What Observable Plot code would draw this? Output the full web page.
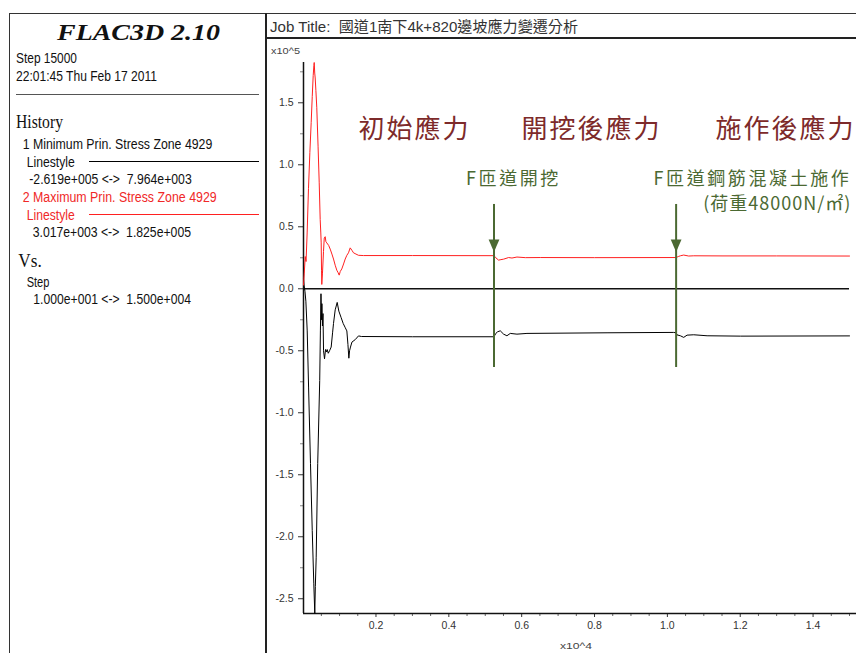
<!DOCTYPE html>
<html>
<head>
<meta charset="utf-8">
<script src="https://cdn.jsdelivr.net/npm/d3@7"></script>
<script src="https://cdn.jsdelivr.net/npm/@observablehq/plot@0.6"></script>
<style>
  body { margin: 0; background: #fff; }
  #page { position: relative; width: 856px; height: 653px; overflow: hidden; background: #fff; }
  #page > svg { position: absolute; left: 0; top: 0; }
</style>
</head>
<body>
<div id="page"></div>
<script>
// History 1: minimum principal stress, zone 4929 (x10^5 Pa) against step
const minSteps = [10, 25, 50, 75, 112, 150, 202, 250, 293, 320,
  335, 358, 400, 455, 474, 490, 505, 515, 530, 545,
  560, 587, 615, 640, 660, 690, 725, 770, 810, 834,
  880, 935, 980, 1040, 1100, 1150, 1200, 1230, 1255, 1275,
  1300, 1340, 1430, 1520, 1600, 3000, 5240, 5290, 5339, 5412,
  5504, 5595, 5687, 5870, 6145, 8343, 10173, 10240, 10265, 10357,
  10448, 10540, 10723, 11090, 12005, 15000];
const minStress = [0.0796, 0.03, -0.02, -0.10, -0.34, -0.80, -1.41, -1.95, -2.38, -2.619,
  -2.40, -2.17, -1.41, -0.74, -0.34, -0.04, -0.25, -0.12, -0.30, -0.20,
  -0.50, -0.565, -0.49, -0.51, -0.49, -0.52, -0.50, -0.47, -0.35, -0.28,
  -0.17, -0.11, -0.18, -0.23, -0.28, -0.31, -0.34, -0.45, -0.56, -0.50,
  -0.47, -0.43, -0.41, -0.38, -0.385, -0.387, -0.387, -0.36, -0.347, -0.339,
  -0.366, -0.379, -0.36, -0.366, -0.36, -0.355, -0.352, -0.355, -0.372, -0.379,
  -0.392, -0.374, -0.371, -0.379, -0.382, -0.38];

// History 2: maximum principal stress, zone 4929 (x10^5 Pa) against step
const maxSteps = [10, 30, 57, 80, 110, 147, 185, 221, 250, 276,
  295, 304, 318, 331, 350, 375, 410, 441, 468, 485,
  496, 505, 512, 530, 559, 580, 606, 625, 650, 700,
  743, 790, 834, 880, 924, 960, 990, 1020, 1061, 1110,
  1155, 1200, 1245, 1292, 1340, 1383, 1450, 1520, 1657, 3000,
  5240, 5290, 5366, 5430, 5504, 5641, 5733, 5870, 6100, 6511,
  8000, 10240, 10300, 10357, 10448, 10585, 10723, 11500, 13000, 15000];
const maxStress = [0.0302, 0.12, 0.26, 0.22, 0.45, 0.81, 1.10, 1.34, 1.55, 1.72,
  1.80, 1.825, 1.74, 1.70, 1.60, 1.46, 1.15, 0.86, 0.56, 0.45,
  0.37, 0.15, 0.035, 0.12, 0.30, 0.41, 0.42, 0.38, 0.37, 0.35,
  0.32, 0.28, 0.24, 0.19, 0.15, 0.13, 0.11, 0.14, 0.16, 0.20,
  0.24, 0.27, 0.29, 0.33, 0.31, 0.29, 0.28, 0.27, 0.268, 0.268,
  0.267, 0.25, 0.231, 0.235, 0.239, 0.252, 0.248, 0.256, 0.251, 0.252,
  0.251, 0.252, 0.26, 0.266, 0.272, 0.264, 0.266, 0.265, 0.265, 0.264];

// Axis ticks
const yTickValues = [-2.5, -2.0, -1.5, -1.0, -0.5, 0.0, 0.5, 1.0, 1.5];
const yMinorTicks = [-2.25, -1.75, -1.25, -0.75, -0.25, 0.25, 0.75, 1.25, 1.75];
const xTickValues = [2000, 4000, 6000, 8000, 10000, 12000, 14000];
const xMinorTicks = [500, 1000, 1500, 2500, 3000, 3500, 4500, 5000, 5500, 6500, 7000, 7500,
  8500, 9000, 9500, 10500, 11000, 11500, 12500, 13000, 13500, 14500, 15000];

// Stage captions
const stageLabels = ["初始應力", "開挖後應力", "施作後應力"];
const stageSteps = [3057, 7916, 13241];
const stageStress = [1.28, 1.28, 1.28];

// Construction events
const eventSteps = [5240, 10240];
const eventTop = 0.68, eventBottom = -0.635, eventHead = 0.347;
const eventLabels = ["F匝道開挖", "F匝道鋼筋混凝土施作", "(荷重48000N/㎡)"];
const eventLabelSteps = [5775, 15053, 15053];
const eventLabelStress = [0.885, 0.88, 0.68];

const minSeries = minSteps.map((s, i) => ({step: s, stress: minStress[i]}));
const maxSeries = maxSteps.map((s, i) => ({step: s, stress: maxStress[i]}));
const yMin = -2.619, yMax = 1.825;

const green = "#4b6932";
const darkRed = "#7d2a2a";
const cjk = "'Noto Sans CJK TC', 'Noto Sans', sans-serif";

// Downward pointing arrow head
const arrowHead = {
  draw(context, size) {
    const r = Math.sqrt(size / Math.PI);
    const h = 2.8 * r, w = 2.4 * r;
    context.moveTo(-w / 2, -h / 2);
    context.lineTo(w / 2, -h / 2);
    context.lineTo(0, h / 2);
    context.closePath();
  }
};

const chart = Plot.plot({
  width: 856,
  height: 653,
  marginLeft: 303,
  marginRight: 7,
  marginTop: 62,
  marginBottom: 40,
  style: {fontFamily: "'Liberation Sans', Arial, sans-serif", background: "transparent", overflow: "visible"},
  x: {domain: [10, 15000], label: null},
  y: {domain: [yMin, yMax], label: null},
  marks: [
    Plot.axisY(yMinorTicks, {tickSize: 3, tickFormat: () => "", stroke: "#888", label: null}),
    Plot.axisY(yTickValues, {tickSize: 5, tickPadding: 5, tickFormat: d => d.toFixed(1), fontSize: 10.5, color: "#333", label: null}),
    Plot.axisX(xMinorTicks, {tickSize: 3, tickFormat: () => "", stroke: "#666", label: null}),
    Plot.axisX(xTickValues, {tickSize: 4, tickPadding: 4, tickFormat: d => (d / 1e4).toFixed(1), fontSize: 10.5, color: "#333", label: null}),
    Plot.ruleX([10], {stroke: "#111", strokeWidth: 1.5}),
    Plot.ruleY([yMin], {stroke: "#111", strokeWidth: 1.5, insetRight: -7}),
    Plot.ruleY([0], {stroke: "#111", strokeWidth: 1.6}),
    Plot.line(minSeries, {x: "step", y: "stress", stroke: "#000", strokeWidth: 1}),
    Plot.line(maxSeries, {x: "step", y: "stress", stroke: "#ff2020", strokeWidth: 1}),
    Plot.ruleX(eventSteps, {y1: eventTop, y2: eventBottom, stroke: green, strokeWidth: 2}),
    Plot.dot(eventSteps, {x: d => d, y: eventHead, symbol: arrowHead, r: 4.5, fill: green, stroke: "none"}),
    Plot.text(stageLabels, {x: (d, i) => stageSteps[i], y: (d, i) => stageStress[i], text: d => d,
      fontSize: 26, fill: darkRed, fontFamily: cjk}),
    Plot.text(eventLabels.slice(0, 1), {x: (d, i) => eventLabelSteps[i], y: (d, i) => eventLabelStress[i], text: d => d,
      fontSize: 18, fill: green, fontFamily: cjk}),
    Plot.text(eventLabels.slice(1), {x: (d, i) => eventLabelSteps[i + 1], y: (d, i) => eventLabelStress[i + 1], text: d => d,
      fontSize: 18, fill: green, fontFamily: cjk, textAnchor: "end"})
  ]
});

// letter spacing for the captions
d3.select(chart).selectAll("text").each(function () {
  const t = this.textContent;
  if (stageLabels.includes(t)) this.style.letterSpacing = "2px";
  else if (t === eventLabels[2]) this.style.letterSpacing = "1px";
  else if (eventLabels.includes(t)) this.style.letterSpacing = "2.6px";
});

const page = document.getElementById("page");
page.appendChild(chart);

// Frame, title bar and history panel
const panel = d3.select(page).append("svg")
  .attr("width", 856).attr("height", 653)
  .style("pointer-events", "none");

panel.append("line").attr("x1", 9).attr("x2", 856).attr("y1", 13.5).attr("y2", 13.5).attr("stroke", "#333");
panel.append("line").attr("x1", 9.5).attr("x2", 9.5).attr("y1", 13).attr("y2", 653).attr("stroke", "#333");
panel.append("rect").attr("x", 265).attr("y", 13).attr("width", 2).attr("height", 640).attr("fill", "#222");
panel.append("rect").attr("x", 265).attr("y", 37).attr("width", 591).attr("height", 2).attr("fill", "#222");
panel.append("line").attr("x1", 16).attr("x2", 259).attr("y1", 94.5).attr("y2", 94.5).attr("stroke", "#555");
panel.append("line").attr("x1", 89).attr("x2", 259).attr("y1", 161.5).attr("y2", 161.5).attr("stroke", "#000");
panel.append("line").attr("x1", 89).attr("x2", 259).attr("y1", 214.5).attr("y2", 214.5).attr("stroke", "#ff2020");

const sans = "'Liberation Sans', Arial, sans-serif";
const serif = "'Liberation Serif', 'Times New Roman', serif";
const panelText = [
  {t: "FLAC3D 2.10", x: 57, y: 40, w: 163, f: serif, s: 23, weight: "bold", style: "italic", c: "#111"},
  {t: "Step 15000", x: 16, y: 63, w: 61, f: sans, s: 14, c: "#111"},
  {t: "22:01:45 Thu Feb 17 2011", x: 16, y: 81, w: 141, f: sans, s: 14, c: "#111"},
  {t: "History", x: 16, y: 128, w: 47, f: serif, s: 19, c: "#111"},
  {t: "1 Minimum Prin. Stress Zone 4929", x: 22.7, y: 149, w: 189.6, f: sans, s: 14, c: "#111"},
  {t: "Linestyle", x: 26.7, y: 166.7, w: 48, f: sans, s: 14, c: "#111"},
  {t: "-2.619e+005 <->  7.964e+003", x: 29.3, y: 184.3, w: 162.4, f: sans, s: 14, c: "#111"},
  {t: "2 Maximum Prin. Stress Zone 4929", x: 22.7, y: 201.7, w: 194, f: sans, s: 14, c: "#f02828"},
  {t: "Linestyle", x: 26.7, y: 220, w: 48, f: sans, s: 14, c: "#f02828"},
  {t: "3.017e+003 <->  1.825e+005", x: 32.7, y: 236.7, w: 158.3, f: sans, s: 14, c: "#111"},
  {t: "Vs.", x: 18.3, y: 266.7, w: 23.4, f: serif, s: 19, c: "#111"},
  {t: "Step", x: 26.7, y: 286.7, w: 22.7, f: sans, s: 14, c: "#111"},
  {t: "1.000e+001 <->  1.500e+004", x: 33.3, y: 304, w: 157.7, f: sans, s: 14, c: "#111"},
  {t: "Job Title:  國道1南下4k+820邊坡應力變遷分析", x: 270, y: 31.7, w: 308, f: "'Liberation Sans', 'Noto Sans CJK TC', sans-serif", s: 15, c: "#333"},
  {t: "x10^5", x: 271, y: 54, w: 29, f: sans, s: 9.5, c: "#444"},
  {t: "x10^4", x: 560, y: 649, w: 32, f: sans, s: 9.5, c: "#444"}
];
panel.selectAll("text.p").data(panelText).join("text")
  .attr("class", "p")
  .attr("x", d => d.x).attr("y", d => d.y)
  .attr("textLength", d => d.w).attr("lengthAdjust", "spacingAndGlyphs")
  .attr("font-family", d => d.f).attr("font-size", d => d.s)
  .attr("font-weight", d => d.weight || "normal").attr("font-style", d => d.style || "normal")
  .attr("fill", d => d.c)
  .style("white-space", "pre")
  .text(d => d.t);
</script>
</body>
</html>
